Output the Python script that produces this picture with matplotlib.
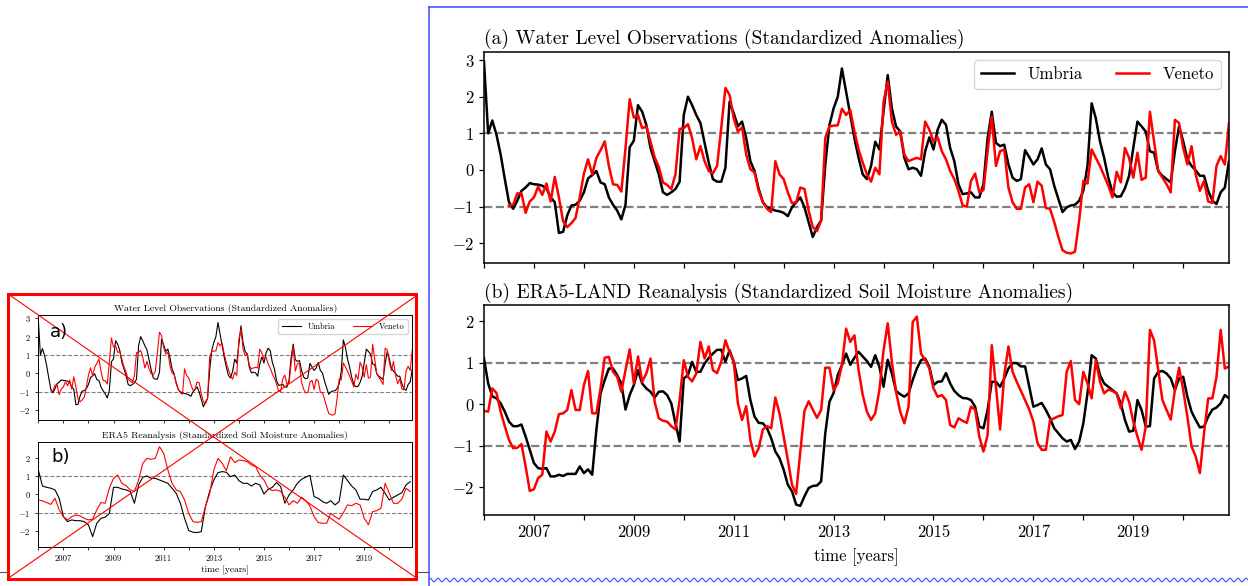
import numpy as np
import matplotlib
matplotlib.use("Agg")
import matplotlib.pyplot as plt
from matplotlib.lines import Line2D
from matplotlib.patches import Rectangle

plt.rcParams["font.family"] = "serif"
plt.rcParams["font.serif"] = ["cmr10"]
plt.rcParams["mathtext.fontset"] = "cm"
plt.rcParams["axes.formatter.use_mathtext"] = True

# monthly series, Jan 2006 .. Dec 2020
start_year = 2006
n_months = 180

# (a) water level, standardized anomalies
wl_umbria = [
    2.95, 1.0, 1.35, 0.96, 0.42, -0.25, -0.88, -1.06, -0.84, -0.57, -0.48, -0.36,
    -0.39, -0.4, -0.43, -0.5, -0.75, -0.88, -1.72, -1.69, -1.24, -0.97, -0.95, -0.84,
    -0.61, -0.23, -0.14, -0.03, -0.34, -0.39, -0.75, -0.95, -1.11, -1.35, -0.95, 0.62,
    0.8, 1.77, 1.59, 1.23, 0.6, 0.24, -0.12, -0.61, -0.68, -0.61, -0.52, -0.32,
    1.5, 2.0, 1.77, 1.5, 1.28, 0.74, 0.2, -0.25, -0.32, -0.32, 0.06, 1.86,
    1.55, 1.19, 1.32, 0.87, 0.24, -0.03, -0.52, -0.88, -1.02, -1.06, -1.11, -1.13,
    -1.17, -1.26, -1.02, -0.88, -0.75, -1.02, -1.42, -1.83, -1.56, -1.38, 0.15, 1.23,
    1.68, 2.0, 2.77, 2.14, 1.5, 0.87, 0.33, -0.12, -0.25, 0.11, 0.77, 0.56,
    1.6, 2.59, 1.68, 1.19, 1.05, 0.33, 0.02, 0.06, 0.02, -0.16, 0.51, 0.89,
    0.56, 1.1, 1.37, 1.23, 0.6, 0.24, -0.39, -0.66, -0.64, -0.61, -0.75, -0.75,
    -0.39, 0.87, 1.59, 0.74, 0.65, 0.69, 0.15, -0.21, -0.3, -0.25, 0.54, 0.35,
    0.15, 0.29, 0.59, 0.15, 0.02, -0.43, -0.79, -1.15, -1.02, -0.97, -0.95, -0.84,
    -0.57, 0.11, 1.82, 1.41, 0.78, 0.33, -0.21, -0.61, -0.73, -0.72, -0.5, -0.16,
    0.6, 1.32, 1.19, 1.05, 0.51, 0.47, -0.03, -0.16, -0.25, -0.34, 0.51, 1.19,
    0.78, 0.29, 0.11, -0.01, -0.16, -0.16, -0.57, -0.84, -0.93, -0.61, -0.48, 0.24,
]
wl_veneto = [
    np.nan, np.nan, np.nan, np.nan, np.nan, np.nan, -0.97, -0.95, -0.64, -0.64, -1.17, -0.86,
    -0.75, -0.46, -0.68, -0.37, -0.86, -0.19, -0.75, -1.4, -1.56, -1.45, -1.31, -0.75,
    -0.1, 0.29, -0.12, 0.33, 0.54, 0.78, 0.11, -0.39, -0.41, -0.59, 0.6, 1.93,
    1.43, 1.5, 1.14, 1.19, 0.78, 0.35, 0.08, -0.34, -0.41, -0.52, -0.12, 1.12,
    1.14, 1.25, 0.87, 0.29, 0.65, 0.24, -0.03, -0.09, 0.11, 1.14, 2.24, 2.05,
    1.41, 1.05, 1.16, 0.42, 0.02, -0.07, -0.57, -0.88, -1.06, -1.15, 0.24, -0.12,
    -0.25, -0.61, -0.91, -0.88, -0.48, -0.52, -1.11, -1.56, -1.67, -1.38, 0.87, 1.19,
    1.21, 1.22, 1.67, 1.5, 1.64, 1.05, 0.56, 0.2, -0.12, -0.32, 0.06, -0.12,
    1.86, 2.41, 1.32, 0.96, 1.05, 0.42, 0.24, 0.29, 0.33, 0.29, 1.32, 1.1,
    0.78, 0.89, 0.51, 0.29, -0.03, -0.25, -0.57, -0.97, -1.0, -0.3, -0.1, -0.61,
    -0.55, 0.51, 1.46, 0.11, 0.51, 0.56, -0.48, -0.88, -1.06, -1.06, -0.48, -0.39,
    -0.88, -0.32, -0.43, -1.04, -1.06, -1.42, -1.83, -2.19, -2.26, -2.28, -2.23, -1.38,
    -0.3, -0.37, 0.56, 0.33, 0.11, -0.16, -0.43, -0.75, -0.05, -0.34, 0.6, 0.33,
    -0.21, 0.47, -0.27, -0.21, 1.59, 0.78, -0.03, -0.21, -0.39, -0.61, 1.37, 1.28,
    0.6, 0.15, 0.65, -0.12, -0.57, -0.3, -0.86, -0.9, 0.11, 0.38, 0.15, 1.28,
]

# (b) ERA5-LAND soil moisture, standardized anomalies
sm_umbria = [
    1.1, 0.5, 0.19, 0.14, 0.02, -0.18, -0.42, -0.53, -0.53, -0.49, -0.78, -1.1,
    -1.42, -1.54, -1.56, -1.54, -1.74, -1.74, -1.7, -1.73, -1.68, -1.68, -1.68, -1.5,
    -1.66, -1.57, -1.7, -0.62, 0.26, 0.58, 0.86, 0.86, 0.7, 0.5, -0.13, 0.22,
    0.46, 0.82, 0.5, 0.38, 0.3, 0.16, 0.3, 0.31, 0.22, 0.02, -0.46, -0.9,
    0.62, 0.7, 1.02, 0.78, 0.78, 0.98, 1.11, 1.22, 1.31, 1.31, 1.02, 1.3,
    1.02, 0.58, 0.62, 0.68, 0.1, -0.3, -0.45, -0.46, -0.58, -0.82, -1.14, -1.3,
    -1.58, -1.94, -2.1, -2.42, -2.45, -2.22, -2.02, -1.97, -1.96, -1.86, -0.7, 0.06,
    0.27, 0.7, 0.94, 1.22, 0.95, 1.12, 1.26, 1.15, 1.04, 0.9, 1.18, 0.9,
    0.42, 1.07, 0.74, 0.32, 0.24, 0.18, 0.26, 0.58, 0.86, 1.06, 1.1, 0.9,
    0.46, 0.54, 0.55, 0.75, 0.5, 0.32, 0.22, 0.15, 0.14, 0.1, -0.06, -0.54,
    -0.58, -0.14, 0.54, 0.54, 0.42, 0.62, 0.86, 0.99, 0.99, 0.91, 0.91, 0.42,
    -0.06, -0.02, 0.03, -0.14, -0.34, -0.58, -0.7, -0.82, -0.9, -0.86, -1.08, -0.9,
    -0.46, 0.26, 1.18, 1.1, 0.7, 0.5, 0.42, 0.34, 0.26, 0.02, -0.38, -0.66,
    -0.64, 0.1, -0.14, -0.54, -0.53, 0.62, 0.78, 0.8, 0.74, 0.62, 0.34, 0.62,
    0.66, 0.18, -0.18, -0.38, -0.56, -0.54, -0.3, -0.13, -0.08, 0.02, 0.22, 0.14,
]
sm_veneto = [
    -0.16, -0.18, 0.38, 0.27, -0.18, -0.53, -0.86, -1.06, -1.05, -0.96, -1.5, -2.09,
    -2.05, -1.78, -1.7, -0.66, -0.9, -0.66, -0.24, -0.22, -0.14, 0.34, -0.14, -0.14,
    0.46, 0.8, -0.22, -0.22, 0.38, 1.12, 1.14, 0.78, 0.66, 0.3, 0.82, 1.32,
    0.5, 1.15, 0.54, 0.74, 1.1, 0.06, -0.34, -0.4, -0.42, -0.53, -0.61, 0.1,
    1.06, 0.66, 0.55, 0.74, 1.5, 1.1, 1.39, 0.82, 0.75, 1.02, 1.54, 1.26,
    1.02, 0.02, -0.38, -0.05, -0.86, -1.26, -1.06, -0.61, -0.53, -0.58, 0.16, -0.22,
    -0.78, -1.34, -1.94, -2.16, -1.14, -0.16, 0.07, -0.13, -0.33, -0.14, 0.88, 0.88,
    0.34, 0.5, 0.94, 1.82, 1.5, 1.66, 0.82, 0.22, -0.18, -0.38, -0.22, 0.34,
    1.3, 1.95, 1.02, 0.3, -0.18, -0.46, -0.06, 1.98, 2.11, 1.22, 1.06, 0.86,
    0.38, 0.18, 0.22, 0.1, -0.5, -0.56, -0.34, -0.4, -0.45, -0.06, -0.13, -0.78,
    -1.14, -0.74, 1.42, 0.42, -0.61, 0.7, 1.39, 0.78, 0.54, 0.32, 0.1, -0.13,
    -0.42, -0.94, -1.1, -1.1, -0.38, -0.34, -0.29, -0.26, 0.78, 1.04, 0.1, 0.0,
    0.78, 0.5, 0.14, 1.06, 0.54, 0.26, 0.35, 0.32, 0.26, -0.1, 0.3, 0.06,
    -0.42, -0.78, -1.1, -0.54, 1.79, 1.54, 0.82, 0.1, -0.14, -0.37, 0.34, 0.88,
    0.34, -0.3, -1.02, -1.26, -1.66, -0.7, 0.14, 0.14, 0.66, 1.79, 0.86, 0.91,
]

# thumbnail (b): ERA5 soil moisture, read every second month
era5_umbria = [
    1.33, 0.45, 0.38, 0.33, 0.24, -0.22, -1.22, -1.49, -1.4, -1.44,
    -1.44, -1.49, -1.67, -2.31, -1.58, -1.31, -1.25, -1.04, 0.38, 0.38,
    0.29, 0.24, 0.15, -0.49, 0.51, 0.93, 1.0, 0.87, 0.87, 0.78,
    0.69, 0.6, 0.33, 0.05, -0.49, -1.31, -1.98, -2.07, -2.09, -2.04,
    -0.67, 0.15, 0.78, 1.18, 1.24, 1.2, 0.96, 1.05, 0.75, 0.6,
    0.6, 0.45, 0.6, 0.51, 0.02, 0.27, 0.38, 0.64, 0.42, -0.49,
    -0.04, 0.24, 0.6, 0.82, 0.93, 1.04, -0.13, -0.22, -0.4, -0.49,
    -0.35, -0.58, -0.4, 1.05, 0.75, 0.45, 0.24, -0.27, -0.27, -0.31,
    0.15, 0.24, 0.38, 0.05, -0.31, -0.16, -0.04, 0.09, 0.51, 0.69,
]
era5_veneto = [
    -0.31, -0.36, -0.45, -0.55, -0.22, -0.85, -1.22, -1.4, -1.22, -1.13,
    -1.18, -1.31, -1.4, -1.36, -0.85, -0.45, -0.49, 0.33, 0.87, 1.05,
    0.6, 0.47, 0.24, 0.15, 0.78, 1.69, 1.96, 1.91, 1.96, 2.6,
    2.24, 1.33, 0.6, 0.24, 0.15, -0.31, -1.04, -1.49, -1.53, -1.49,
    -0.67, 0.02, 1.33, 1.96, 1.69, 1.29, 2.05, 1.73, 1.87, 1.84,
    1.78, 1.6, 1.51, 1.05, 0.78, 0.33, 0.2, 0.24, 0.15, -0.16,
    -0.58, -0.35, -0.49, -0.16, -0.35, -0.64, -1.22, -1.55, -1.58, -1.58,
    -1.04, -1.22, -1.36, -1.0, -0.58, -0.62, -0.49, -0.58, -1.31, -1.67,
    -0.95, -0.89, -0.76, 0.6, 0.05, -0.49, -0.49, -0.27, 0.33, 0.15,
]

years = start_year + np.arange(n_months) / 12
years_2m = start_year + np.arange(0, n_months, 2) / 12
tick_years = list(range(2006, 2021))

W, H = 1248, 586
fig = plt.figure(figsize=(W / 100, H / 100), dpi=100)


# place things with pixel coords of the reference picture
def box(x0, y0, x1, y1):
    return [x0 / W, 1 - y1 / H, (x1 - x0) / W, (y1 - y0) / H]


def fig_line(xs, ys, **kw):
    fig.add_artist(Line2D([x / W for x in xs], [1 - y / H for y in ys],
                          transform=fig.transFigure, **kw))


def style_axis(ax, ylim, yticks, fs, lw_spine, tick_len, labels=True):
    ax.set_xlim(years[0], years[-1])
    ax.set_ylim(*ylim)
    ax.set_yticks(yticks)
    ax.set_xticks(tick_years)
    if labels:
        ax.set_xticklabels([str(y) if y % 2 else "" for y in tick_years])
    else:
        ax.set_xticklabels([])
    ax.tick_params(labelsize=fs, length=tick_len, width=lw_spine * 0.8)
    for s in ax.spines.values():
        s.set_linewidth(lw_spine)


# ---------- main chart ----------
axA = fig.add_axes(box(484, 52, 1229, 263))
axB = fig.add_axes(box(484, 305, 1229, 515))

for ax in (axA, axB):
    ax.axhline(1, color="gray", ls="--", lw=1.6, zorder=1)
    ax.axhline(-1, color="gray", ls="--", lw=1.6, zorder=1)

axA.plot(years, wl_umbria, color="k", lw=1.8, label="Umbria")
axA.plot(years, wl_veneto, color="r", lw=1.8, label="Veneto")
axB.plot(years, sm_umbria, color="k", lw=1.8)
axB.plot(years, sm_veneto, color="r", lw=1.8)

style_axis(axA, (-2.54, 3.22), range(-2, 4), 12, 1.1, 3.5, labels=False)
style_axis(axB, (-2.67, 2.39), range(-2, 3), 12, 1.1, 3.5)
axA.set_title("(a) Water Level Observations (Standardized Anomalies)",
              loc="left", fontsize=14, pad=6)
axB.set_title("(b) ERA5-LAND Reanalysis (Standardized Soil Moisture Anomalies)",
              loc="left", fontsize=14, pad=5)
axB.set_xlabel("time [years]", fontsize=12, labelpad=6)
axA.legend(loc="upper right", ncol=2, fontsize=12, handlelength=2.0,
           columnspacing=2.0)

# ---------- crossed-out thumbnail ----------
tA = fig.add_axes(box(38.3, 315, 412.3, 420))
tB = fig.add_axes(box(38.3, 441.7, 412.3, 546.7))
for ax in (tA, tB):
    ax.axhline(1, color="gray", ls="--", lw=0.8, zorder=1)
    ax.axhline(-1, color="gray", ls="--", lw=0.8, zorder=1)

tA.plot(years, wl_umbria, color="k", lw=0.8, label="Umbria")
tA.plot(years, wl_veneto, color="r", lw=0.8, label="Veneto")
tB.plot(years_2m, era5_umbria, color="k", lw=0.8)
tB.plot(years_2m, era5_veneto, color="r", lw=0.8)

style_axis(tA, (-2.55, 3.18), range(-2, 4), 6.2, 0.7, 2, labels=False)
style_axis(tB, (-2.86, 2.87), range(-2, 3), 6.2, 0.7, 2)
tA.set_title("Water Level Observations (Standardized Anomalies)", fontsize=7, pad=3)
tB.set_title("ERA5 Reanalysis (Standardized Soil Moisture Anomalies)", fontsize=7, pad=3)
tB.set_xlabel("time [years]", fontsize=6.8, labelpad=2)
tA.legend(loc="upper right", ncol=2, fontsize=6, handlelength=2.3,
          columnspacing=2.2)
fig.text(50 / W, 1 - 332 / H, "a)", fontsize=13, va="center", family="DejaVu Sans")
fig.text(51 / W, 1 - 457 / H, "b)", fontsize=13, va="center", family="DejaVu Sans")

# red box and cross
fig.add_artist(Rectangle((8 / W, 1 - 579 / H), 408 / W, 285 / H, fill=False,
                         ec="red", lw=2.2, transform=fig.transFigure))
fig_line([11, 415], [296, 577], color="red", lw=0.8)
fig_line([10, 416], [577, 296], color="red", lw=0.8)
fig_line([0, 7], [572, 572], color="#555555", lw=0.8)
fig_line([418, 429], [572, 572], color="#555555", lw=0.8)

# blue page frame with wavy bottom edge
fig_line([429, W], [7, 7], color="#4646ff", lw=1.1)
fig_line([429, 429], [7, H], color="#4646ff", lw=1.1)
wx = np.arange(430, W, 0.5)
fig_line(wx, 580 + 1.8 * np.sin(2 * np.pi * wx / 8), color="#4646ff", lw=0.8)

fig.savefig("out.png", dpi=100)
